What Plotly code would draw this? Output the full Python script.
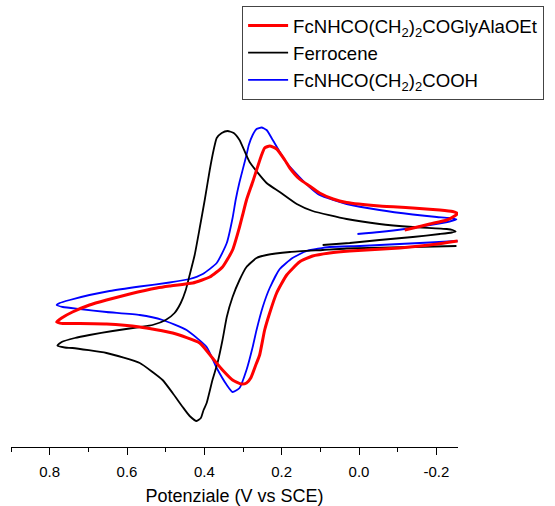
import plotly.graph_objects as go

# Potential (V vs SCE) and current (arbitrary units)
fc_V = [0.094, 0.024, -0.053, -0.139, -0.209, -0.240, -0.250, -0.242, -0.227, -0.139,
        -0.053, 0.032, 0.120, 0.161, 0.205, 0.239, 0.283, 0.309, 0.324, 0.340,
        0.355, 0.368, 0.376, 0.386, 0.399, 0.412, 0.425, 0.438, 0.448, 0.461,
        0.477, 0.500, 0.534, 0.567, 0.637, 0.697, 0.735, 0.769, 0.780, 0.761,
        0.741, 0.653, 0.567, 0.534, 0.508, 0.482, 0.456, 0.438, 0.420, 0.409,
        0.402, 0.394, 0.379, 0.366, 0.353, 0.342, 0.327, 0.309, 0.291, 0.265,
        0.239, 0.179, 0.094, 0.032, -0.139, -0.252]
fc_I = [0.5, 0.7, 1.0, 1.3, 1.6, 1.75, 1.85, 2.0, 2.1, 2.3,
        2.6, 3.1, 3.9, 4.6, 5.8, 6.7, 8.8, 11.0, 11.7, 11.9,
        11.7, 11.2, 10.0, 8.0, 5.0, 2.2, -0.5, -2.5, -4.0, -5.3,
        -6.3, -7.0, -7.5, -7.7, -8.1, -8.5, -8.8, -9.2, -9.55, -9.75,
        -9.8, -10.3, -11.3, -12.2, -13.0, -14.3, -15.7, -16.6, -17.1, -16.8,
        -16.0, -15.3, -13.0, -11.3, -9.0, -6.7, -4.7, -3.0, -1.7, -0.8,
        -0.5, -0.2, 0.0, 0.15, 0.3, 0.4]

acid_V = [0.004, -0.053, -0.118, -0.183, -0.234, -0.252, -0.234, -0.201, -0.139, -0.053,
          0.032, 0.067, 0.102, 0.128, 0.154, 0.187, 0.205, 0.223, 0.239, 0.252,
          0.265, 0.275, 0.285, 0.291, 0.309, 0.319, 0.327, 0.342, 0.368, 0.404,
          0.438, 0.490, 0.567, 0.645, 0.697, 0.748, 0.774, 0.782, 0.766, 0.722,
          0.653, 0.567, 0.508, 0.446, 0.394, 0.368, 0.342, 0.327, 0.309, 0.291,
          0.275, 0.265, 0.249, 0.231, 0.205, 0.172, 0.135, 0.076, -0.002, -0.105,
          -0.183, -0.255]
acid_I = [1.6, 1.8, 2.1, 2.5, 2.85, 3.05, 3.2, 3.3, 3.55, 4.0,
          4.6, 5.0, 5.5, 6.3, 7.3, 8.7, 9.8, 11.0, 12.0, 12.25,
          12.1, 11.5, 10.5, 9.5, 6.8, 5.0, 3.2, 0.7, -1.3, -2.4,
          -2.9, -3.25, -3.65, -4.1, -4.5, -5.0, -5.3, -5.5, -5.7, -5.9,
          -6.2, -6.5, -7.0, -8.0, -9.7, -11.8, -13.5, -14.2, -13.8, -12.0,
          -9.7, -8.0, -5.7, -3.8, -1.9, -0.8, -0.1, 0.3, 0.4, 0.6,
          0.75, 0.9]

pep_V = [-0.118, -0.157, -0.183, -0.227, -0.247, -0.255, -0.242, -0.209, -0.139, -0.053,
         0.032, 0.067, 0.102, 0.128, 0.154, 0.179, 0.192, 0.213, 0.231, 0.244,
         0.252, 0.275, 0.291, 0.301, 0.309, 0.327, 0.353, 0.386, 0.430, 0.490,
         0.523, 0.593, 0.653, 0.697, 0.741, 0.769, 0.782, 0.766, 0.722, 0.653,
         0.567, 0.482, 0.412, 0.379, 0.353, 0.327, 0.304, 0.291, 0.280, 0.267,
         0.257, 0.244, 0.231, 0.213, 0.187, 0.154, 0.120, 0.076, 0.024, -0.105,
         -0.183, -0.255]
pep_I = [2.0, 2.35, 2.6, 3.0, 3.4, 3.65, 3.85, 4.0, 4.2, 4.4,
         4.75, 5.1, 5.7, 6.4, 7.1, 8.2, 9.0, 10.1, 10.4, 10.2,
         9.5, 6.8, 5.0, 3.5, 2.3, 0.0, -1.7, -2.7, -3.3, -3.6,
         -3.8, -4.4, -5.0, -5.5, -6.2, -6.8, -7.2, -7.35, -7.35, -7.4,
         -7.7, -8.3, -9.3, -10.8, -12.0, -13.0, -13.4, -13.3, -12.8, -11.5,
         -10.5, -8.0, -6.3, -4.3, -2.5, -1.2, -0.6, -0.3, -0.1, 0.2,
         0.5, 0.9]

names = ["FcNHCO(CH<sub>2</sub>)<sub>2</sub>COGlyAlaOEt", "Ferrocene",
         "FcNHCO(CH<sub>2</sub>)<sub>2</sub>COOH"]
tick_vals = [0.8, 0.6, 0.4, 0.2, 0.0, -0.2]
tick_text = ["0.8", "0.6", "0.4", "0.2", "0.0", "-0.2"]
minor_vals = [0.9, 0.7, 0.5, 0.3, 0.1, -0.1]

FONT = "Liberation Sans, Arial, sans-serif"
SM = 0.5

fig = go.Figure()
fig.add_trace(go.Scatter(x=acid_V, y=acid_I, mode="lines", name=names[2],
                         line=dict(color="#0000ff", width=1.8, shape="spline", smoothing=SM),
                         legendrank=3))
fig.add_trace(go.Scatter(x=fc_V, y=fc_I, mode="lines", name=names[1],
                         line=dict(color="#000000", width=1.8, shape="spline", smoothing=SM),
                         legendrank=2))
fig.add_trace(go.Scatter(x=pep_V, y=pep_I, mode="lines", name=names[0],
                         line=dict(color="#ff0000", width=3, shape="spline", smoothing=SM),
                         legendrank=1))

fig.update_layout(
    width=555, height=506,
    margin=dict(l=11, r=97, t=110, b=59, autoexpand=False),
    paper_bgcolor="white", plot_bgcolor="white",
    font=dict(family=FONT, color="black"),
    showlegend=True,
    legend=dict(x=0.517, y=1.309, xanchor="left", yanchor="top",
                bordercolor="#444444", borderwidth=1, bgcolor="white",
                font=dict(size=18.6, family=FONT, color="black"),
                itemwidth=40, tracegroupgap=0),
    xaxis=dict(range=[0.9, -0.256], showline=True, linecolor="black", linewidth=1.3,
               ticks="outside", ticklen=7, tickwidth=1.3, tickcolor="black",
               tickvals=tick_vals, ticktext=tick_text,
               tickfont=dict(size=15, family=FONT, color="black"),
               ticklabelstandoff=4,
               minor=dict(tickvals=minor_vals, ticks="outside", ticklen=4,
                          tickwidth=1.3, tickcolor="black", showgrid=False),
               showgrid=False, zeroline=False,
               title=dict(text="Potenziale (V vs SCE)", standoff=15,
                          font=dict(size=18, family=FONT, color="black"))),
    yaxis=dict(range=[-19.7, 14.0], visible=False, showgrid=False, zeroline=False),
)

fig.write_html("out.html")
